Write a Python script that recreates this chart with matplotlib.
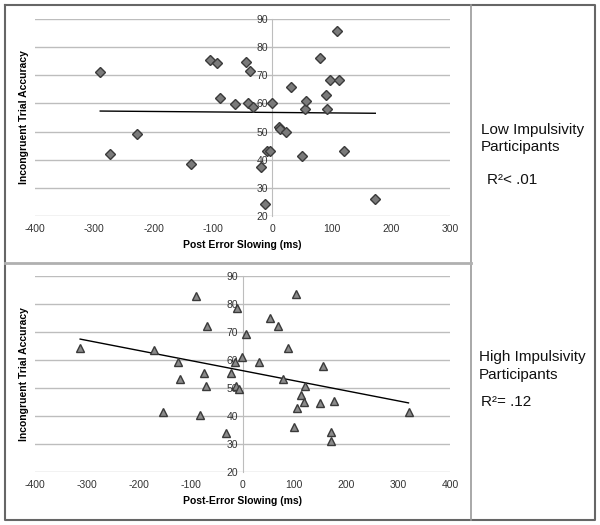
import numpy as np
import matplotlib
matplotlib.use("Agg")
import matplotlib.pyplot as plt

plt.rcParams['font.family'] = ['Liberation Sans', 'DejaVu Sans']
plt.rcParams['axes.unicode_minus'] = False

# low impulsivity group (diamonds)
low_pes = [-290, -274, -228, -137, -105, -93, -88, -62, -44, -38, -40, -33,
           -1, -19, -12, -9, -3, 12, 13, 24, 32, 51, 55, 57, 81, 91, 92, 98,
           109, 113, 122, 174]
low_acc = [71.3, 42.0, 49.3, 38.3, 75.6, 74.5, 62.0, 59.7, 74.6, 71.4, 60.3,
           58.9, 60.3, 37.4, 24.1, 43.2, 43.0, 51.8, 50.9, 50.0, 66.0, 41.4,
           58.0, 61.0, 76.3, 62.9, 58.0, 68.4, 85.9, 68.4, 43.2, 26.2]

# high impulsivity group (triangles)
high_pes = [-313, -170, -153, -124, -120, -89, -82, -74, -70, -68, -31, -22,
            -15, -12, -10, -6, -1, 7, 31, 53, 68, 78, 87, 100, 103, 106, 113,
            119, 121, 149, 156, 171, 171, 177, 320]
high_acc = [64.4, 63.6, 41.3, 59.4, 53.2, 82.7, 40.4, 55.5, 50.7, 72.3, 34.0,
            55.5, 59.2, 50.7, 78.7, 49.6, 61.2, 69.3, 59.4, 74.9, 72.3, 53.1,
            64.4, 36.0, 83.5, 42.7, 47.5, 45.1, 50.7, 44.8, 58.0, 34.4, 31.1,
            45.4, 41.5]

# linear trend (intercept, slope)
low_fit = (56.8, -0.0017)
high_fit = (56.2, -0.036)

yticks = [20, 30, 40, 50, 60, 70, 80, 90]
low_xticks = [-400, -300, -200, -100, 0, 100, 200, 300]
high_xticks = [-400, -300, -200, -100, 0, 100, 200, 300, 400]

W, H = 600, 525
fig = plt.figure(figsize=(6, 5.25), dpi=100)
fig.patch.set_facecolor('white')


def fx(px):
    return px / W


def fy(py):
    return 1 - py / H


# table-like frame
frame = fig.add_axes([0, 0, 1, 1])
frame.set_xlim(0, W)
frame.set_ylim(H, 0)
frame.axis('off')
frame.plot([5, 595, 595, 5, 5], [5, 5, 520, 520, 5], color='#666666', lw=1.5)
frame.plot([471, 471], [5, 520], color='#999999', lw=1.2)
frame.plot([5, 471], [262.5, 262.5], color='#b0b0b0', lw=2)


def scatter_panel(rect, xs, ys, fit, xticks, xlabel, marker, msize, fc):
    ax = fig.add_axes(rect)
    ax.set_xlim(xticks[0], xticks[-1])
    ax.set_ylim(20, 90)
    for v in yticks:
        ax.axhline(v, color='#bdbdbd', lw=1, zorder=1)
    for s in ['top', 'right', 'bottom']:
        ax.spines[s].set_visible(False)
    ax.spines['left'].set_position(('data', 0))
    ax.spines['left'].set_color('#bdbdbd')
    ax.spines['left'].set_zorder(1)
    ax.set_yticks(yticks)
    ax.set_xticks(xticks)
    ax.tick_params(length=0, labelsize=7.5, colors='#333333')
    ax.tick_params(axis='y', pad=3)
    ax.tick_params(axis='x', pad=6)
    ax.set_xlabel(xlabel, fontsize=7.5, fontweight='bold', labelpad=4)
    ax.set_ylabel('Incongruent Trial Accuracy', fontsize=7.5, fontweight='bold')
    ax.yaxis.set_label_coords(-0.015, 0.5)
    ax.patch.set_alpha(0)
    b0, b1 = fit
    lx = np.array([min(xs), max(xs)])
    ax.plot(lx, b0 + b1 * lx, color='black', lw=1, zorder=2)
    ax.plot(xs, ys, linestyle='none', marker=marker, markersize=msize,
            markerfacecolor=fc, markeredgecolor='#3a3a3a',
            markeredgewidth=1, zorder=3)
    return ax


scatter_panel([fx(35), fy(216), fx(415), 197 / H], low_pes, low_acc, low_fit,
              low_xticks, 'Post Error Slowing (ms)', 'D', 5.3, '#7a7a7a')
scatter_panel([fx(35), fy(472), fx(415), 196 / H], high_pes, high_acc, high_fit,
              high_xticks, 'Post-Error Slowing (ms)', '^', 6.3, '#8a8a8a')

# group labels in the right column
txt = dict(fontsize=11, va='center', ha='left', color='#111111')
frame.text(481, 130, 'Low Impulsivity', **txt)
frame.text(481, 147.5, 'Participants', **txt)
frame.text(487, 180, 'R\u00b2< .01', **txt)
frame.text(479, 357, 'High Impulsivity', **txt)
frame.text(479, 374.5, 'Participants', **txt)
frame.text(481, 402, 'R\u00b2= .12', **txt)

fig.savefig('out.png', dpi=100)
